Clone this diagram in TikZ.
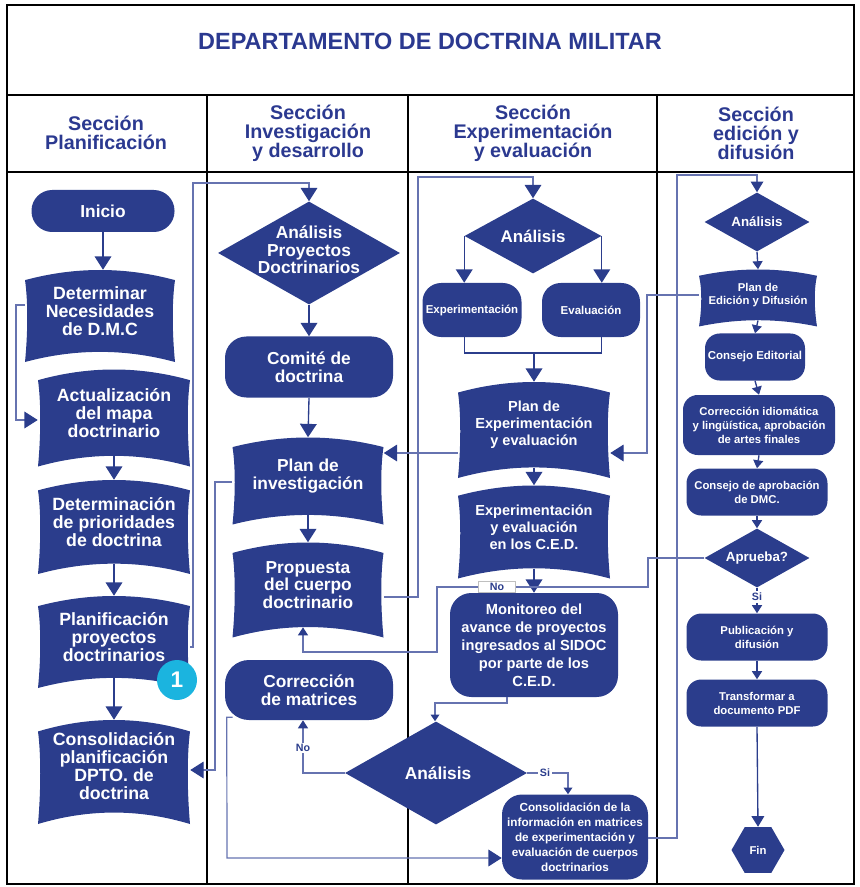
\documentclass[tikz,border=0pt]{standalone}
\usepackage{fontspec}
\setmainfont{Liberation Sans}
\usetikzlibrary{arrows.meta,shapes.geometric,calc}
\definecolor{nodeblue}{HTML}{2B3D8C}
\definecolor{titleblue}{HTML}{2B3990}
\definecolor{lineblue}{HTML}{6673B0}
\definecolor{badgecyan}{HTML}{1BB4DF}
\newcommand\fz[2]{\fontsize{#1}{#2}\selectfont\bfseries}
% rounded box: name, cx, cy, w, h, radius, font, text
\newcommand\rb[8]{%
  \node[rbox, minimum width={#4*0.75pt}, minimum height={#5*0.75pt}, rounded corners=#6, font=#7] (#1) at (#2,#3) {#8};}
% wavy (banner) box: name, cx, cy, w, h, font, text
\newcommand\wavy[7]{%
  \pgfmathsetmacro\wA{#4/2}\pgfmathsetmacro\wB{#5/2}\pgfmathsetmacro\wD{0.11*#5}\def\wS{3}%
  \fill[nodeblue] ({#2-\wA},{#3-\wB+\wD}) .. controls ({#2-\wA/3},{#3-\wB-\wD/3}) and ({#2+\wA/3},{#3-\wB-\wD/3}) .. ({#2+\wA},{#3-\wB+\wD})
     .. controls ({#2+\wA-\wS},{#3-\wB/3}) and ({#2+\wA-\wS},{#3+\wB/3}) .. ({#2+\wA},{#3+\wB})
     .. controls ({#2+\wA/3},{#3+\wB-4*\wD/3}) and ({#2-\wA/3},{#3+\wB-4*\wD/3}) .. ({#2-\wA},{#3+\wB})
     .. controls ({#2-\wA+\wS},{#3+\wB/3}) and ({#2-\wA+\wS},{#3-\wB/3}) .. cycle;
  \node[wtext, font=#6, minimum width={#4*0.75pt}, minimum height={(#5-\wD)*0.75pt}] (#1) at (#2,{#3-\wD/2}) {#7};}
\begin{document}
\begin{tikzpicture}[x=0.75pt,y=-0.75pt,
  rbox/.style={rectangle, fill=nodeblue, text=white, align=center, inner sep=0pt},
  wtext/.style={rectangle, text=white, align=center, inner sep=0pt},
  dia/.style={diamond, fill=nodeblue, inner sep=0pt},
  ntext/.style={text=white, align=center, inner sep=0pt},
  hdr/.style={font=\fz{14.8}{14.2}, text=titleblue, align=center, inner sep=0pt},
  lab/.style={font=\fz{8}{8}, text=nodeblue, inner sep=1.2pt},
  frame/.style={draw=black, line width=1.6pt},
  conn/.style={draw=lineblue, line width=0.9pt},
  vconn/.style={draw=nodeblue, line width=1pt},
  abig/.style={-{Triangle[width=12.5pt,length=10pt,color=nodeblue]}},
  amed/.style={-{Triangle[width=9.5pt,length=8pt,color=nodeblue]}},
  asml/.style={-{Triangle[width=7.5pt,length=6pt,color=nodeblue]}},
  atiny/.style={-{Triangle[width=6.5pt,length=5pt,color=nodeblue]}}
]
\useasboundingbox (0,0) rectangle (859,887);
% frame
\draw[frame] (7,5) rectangle (854,884);
\draw[frame] (7,95) -- (854,95);
\draw[frame] (7,172) -- (854,172);
\draw[frame] (207,95) -- (207,884);
\draw[frame] (408,95) -- (408,884);
\draw[frame] (657,95) -- (657,884);
% title and headers
\node[font=\fz{17.6}{19}, text=titleblue] (title) at (430,41) {DEPARTAMENTO DE DOCTRINA MILITAR};
\node[hdr] (h1) at (106,133) {Sección\\Planificación};
\node[hdr] (h2) at (308,133) {Sección\\Investigación\\y desarrollo};
\node[hdr] (h3) at (533,133) {Sección\\Experimentación\\y evaluación};
\node[hdr] (h4) at (756,133) {Sección\\edición y\\difusión};
% column 1
\rb{ini}{103}{211}{143}{42}{15.5pt}{\fz{13}{13}}{Inicio}
\wavy{det}{100}{316}{150}{92}{\fz{13.3}{13.5}}{Determinar\\Necesidades\\de D.M.C}
\wavy{act}{114}{418}{152}{97}{\fz{13.3}{13.5}}{Actualización\\del mapa\\doctrinario}
\wavy{dtp}{114}{527}{152}{94}{\fz{13.3}{13.5}}{Determinación\\de prioridades\\de doctrina}
\wavy{plp}{114}{642}{152}{92}{\fz{13.3}{13.5}}{Planificación\\proyectos\\doctrinarios}
\wavy{con}{114}{772}{152}{104}{\fz{13.3}{13.5}}{Consolidación\\planificación\\DPTO. de\\doctrina}
\node[circle, fill=badgecyan, minimum size={40*0.75pt}, inner sep=0pt, text=white, font=\fz{17}{17}] (b1) at (177,680) {1};
% column 2
\node[dia, minimum width={182*0.75pt}, minimum height={103*0.75pt}] (apd) at (309,253) {};
\node[ntext, font=\fz{13}{13.2}] (apdt) at (309,250) {Análisis\\Proyectos\\Doctrinarios};
\rb{com}{309}{367}{168}{61}{16pt}{\fz{13}{13.2}}{Comité de\\doctrina}
\wavy{pin}{308}{481}{151}{87}{\fz{13}{13.2}}{Plan de\\investigación}
\wavy{pro}{308}{590}{151}{95}{\fz{13}{13.2}}{Propuesta\\del cuerpo\\doctrinario}
\rb{cor}{309}{690}{168}{60}{18pt}{\fz{13}{13.2}}{Corrección\\de matrices}
% column 3
\node[dia, minimum width={137*0.75pt}, minimum height={75*0.75pt}] (an3) at (533,236) {};
\node[ntext, font=\fz{12.7}{13}] (an3t) at (533,236) {Análisis};
\rb{exp}{472}{310}{99}{54}{14pt}{\fz{8.6}{9}}{Experimentación}
\rb{eva}{591}{310}{98}{54}{14pt}{\fz{8.6}{9}}{Evaluación}
\wavy{pex}{534}{430}{152}{96}{\fz{10.9}{12.75}}{Plan de\\Experimentación\\y evaluación}
\wavy{ced}{534}{532}{152}{93}{\fz{10.9}{12.75}}{Experimentación\\y evaluación\\en los C.E.D.}
\rb{mon}{534}{645}{168}{104}{16pt}{\fz{11}{13.5}}{Monitoreo del\\avance de proyectos\\ingresados al SIDOC\\por parte de los\\C.E.D.}
\node[dia, minimum width={182*0.75pt}, minimum height={103*0.75pt}] (anb) at (436,773) {};
\node[ntext, font=\fz{13}{13.2}] (anbt) at (438,773) {Análisis};
\rb{cin}{575}{837}{146}{85}{15pt}{\fz{8.8}{11.25}}{Consolidación de la\\información en matrices\\de experimentación y\\evaluación de cuerpos\\doctrinarios}
% column 4
\node[dia, minimum width={105*0.75pt}, minimum height={59*0.75pt}] (an4) at (757,222) {};
\node[ntext, font=\fz{10}{10}] (an4t) at (757,222) {Análisis};
\wavy{ped}{758}{298}{118}{57}{\fz{8.5}{10}}{Plan de\\Edición y Difusión}
\rb{cse}{755}{357}{100}{47}{11pt}{\fz{8.6}{10}}{Consejo Editorial}
\rb{cid}{759}{425}{152}{60}{11pt}{\fz{8.5}{10.5}}{Corrección idiomática\\y lingüística, aprobación\\de artes finales}
\rb{cap}{757}{492}{141}{47}{11pt}{\fz{8.5}{10.5}}{Consejo de aprobación\\de DMC.}
\node[dia, minimum width={105*0.75pt}, minimum height={59*0.75pt}] (apr) at (757,558) {};
\node[ntext, font=\fz{10}{10}] (aprt) at (757,558) {Aprueba?};
\rb{pub}{757}{637}{141}{47}{11pt}{\fz{8.5}{10.5}}{Publicación y\\difusión}
\rb{tra}{757}{703}{141}{47}{11pt}{\fz{8.5}{10.5}}{Transformar a\\documento PDF}
\node[regular polygon, regular polygon sides=6, minimum size={53*0.75pt}, inner sep=0pt, fill=nodeblue, text=white, font=\fz{8.5}{9}] (fin) at (758,850) {Fin};
% connectors column 1
\draw[vconn, abig] (ini.south) -- (ini.south |- det.north);
\draw[conn, abig] (det.west |- 0,305) -- (16,305) |- (act.west |- 0,420);
\draw[vconn, abig] (act.south) -- (dtp.north);
\draw[vconn, abig] (dtp.south) -- (plp.north);
\draw[vconn, abig] (plp.south) -- (con.north);
\draw[conn, abig] (plp.east |- 0,647) -- (193,647) -- (193,183) -| (apd.north);
% column 2
\draw[vconn, abig] (apd.south) -- (com.north);
\draw[vconn, abig] (com.south) -- (pin.north);
\draw[vconn, abig] (pin.south) -- (pro.north);
\draw[conn, abig] (pin.west |- 0,482) -- (215,482) |- (con.east |- 0,770);
\draw[conn, abig] (pro.east |- 0,597) -- (418,597) -- (418,177) -| (an3.north);
% column 3
\draw[vconn, abig] (an3.west) -- (an3.west |- exp.north);
\draw[vconn, abig] (an3.east) -- (an3.east |- eva.north);
\draw[vconn] (an3.west |- exp.south) -- (an3.west |- 0,353) -- (an3.east |- 0,353) -- (an3.east |- eva.south);
\draw[vconn, abig] (pex.north |- 0,353) -- (pex.north);
\draw[vconn, abig] (pex.south) -- (ced.north);
\draw[conn, abig] (pex.west |- 0,453) -- (pin.east |- 0,453);
\draw[vconn, abig] (ced.south) -- (mon.north);
\draw[conn, asml] (apr.west) -- (648,558) -- (648,587) -- (437,587) -- (437,652) -- (303,652) -- (pro.south -| 303,0);
\node[lab, draw=gray!50, fill=white, minimum width={37*0.75pt}] (no1) at (497,587) {No};
\draw[conn, atiny] (mon.south -| 507,0) -- (507,703) -- (435,703) -- (anb.north -| 435,0);
\draw[conn, asml] (anb.west) -- (303,773) -- (cor.south -| 303,0);
\node[lab, fill=white] (no2) at (303,748) {No};
\draw[conn, atiny] (anb.east) -- (568,773) -- (cin.north -| 568,0);
\node[lab, fill=white] (si1) at (545,773) {Si};
\draw[conn, abig] ([shift={(8,-3)}]cor.south west) -- ++(-6,0) -- (227,858) -- (cin.west |- 0,858);
\draw[conn, amed] (cin.east |- 0,838) -- (677,838) -- (677,175) -| (an4.north);
% column 4
\draw[conn, abig] (ped.west |- 0,295) -- (647,295) -- (647,453) -- (pex.east |- 0,453);
\draw[vconn, asml] (an4.south) -- (ped.north);
\draw[vconn, asml] (ped.south) -- (cse.north);
\draw[vconn, asml] (cse.south) -- (cid.north);
\draw[vconn, asml] (cid.south) -- (cap.north);
\draw[vconn, asml] (cap.south) -- (apr.north);
\draw[vconn, asml] (apr.south) -- (pub.north);
\node[lab, fill=white] (si2) at (757,597) {Si};
\draw[vconn, asml] (pub.south) -- (tra.north);
\draw[vconn, amed] (tra.south) -- (fin.north);
\end{tikzpicture}
\end{document}
